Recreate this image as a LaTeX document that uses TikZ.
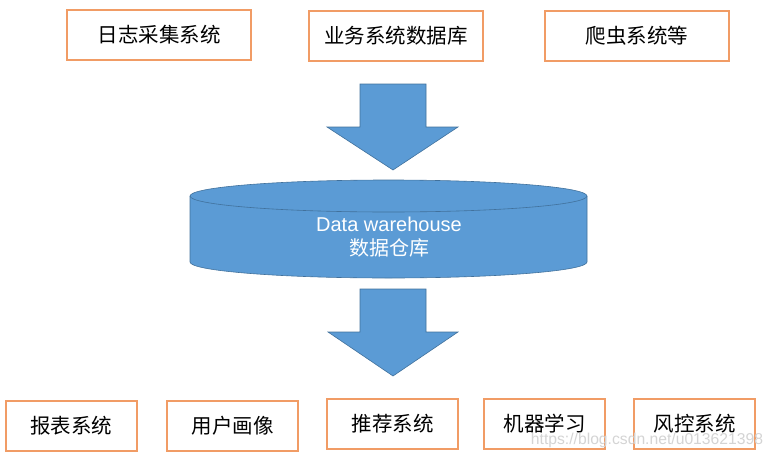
\documentclass[tikz,border=0pt]{standalone}
\usepackage{fontspec}
\usepackage{xcolor}
\usepackage{tikz}
\setmainfont{Liberation Sans}
\newfontfamily\cjk{Noto Sans CJK SC}
\definecolor{boxorange}{HTML}{F19C65}
\definecolor{dwblue}{HTML}{5B9BD5}
\definecolor{dwedge}{HTML}{41719C}
\definecolor{markgray}{HTML}{D4D4D4}
\tikzset{
  srcbox/.style={draw=boxorange,line width=1.3pt,fill=white,inner sep=0pt,minimum height=50pt,font=\cjk\fontsize{20.5}{24}\selectfont},
  bigarrow/.style={fill=dwblue,draw=dwedge,line width=0.6pt}
}

\begin{document}
\begin{tikzpicture}[x=1pt,y=-1pt]
\useasboundingbox (0,0) rectangle (774,458);
% sources
\node[srcbox,minimum width=184pt] (logsys) at (159,35) {日志采集系统};
\node[srcbox,minimum width=174pt] (bizdb) at (396,36) {业务系统数据库};
\node[srcbox,minimum width=184pt] (crawler) at (637,36) {爬虫系统等};
% arrow in
\draw[bigarrow] (360,84) -- (426,84) -- (426,127) -- (458,127) -- (393,170) -- (327,127) -- (360,127) -- cycle;
% warehouse
\fill[dwblue] (190,196) -- (190,262) arc[start angle=180,end angle=360,x radius=198.5pt,y radius=16pt] -- (587,196) -- cycle;
\draw[dwedge,line width=0.6pt] (190,196) -- (190,262) arc[start angle=180,end angle=360,x radius=198.5pt,y radius=16pt] -- (587,196);
\draw[bigarrow] (388.5,196) ellipse[x radius=198.5pt,y radius=16pt];
\node[text=white,align=center,font=\fontsize{20}{24}\selectfont] (dw) at (389,237) {Data warehouse\\{\cjk 数据仓库}};
% arrow out
\draw[bigarrow] (360,289) -- (426,289) -- (426,332) -- (458,332) -- (393,376) -- (328,332) -- (360,332) -- cycle;
% consumers
\node[srcbox,minimum width=131pt] (report) at (71.5,426) {报表系统};
\node[srcbox,minimum width=131pt] (profile) at (232.5,426) {用户画像};
\node[srcbox,minimum width=131pt] (recsys) at (392.5,424) {推荐系统};
\node[srcbox,minimum width=121pt] (mlearn) at (544.5,424) {机器学习};
\node[srcbox,minimum width=121pt] (riskctl) at (694.5,424) {风控系统};
\node[text=markgray,font=\fontsize{15.7}{17}\selectfont,inner sep=0pt] (wmark) at (647,440) {https://blog.csdn.net/u013621398};
\end{tikzpicture}
\end{document}
